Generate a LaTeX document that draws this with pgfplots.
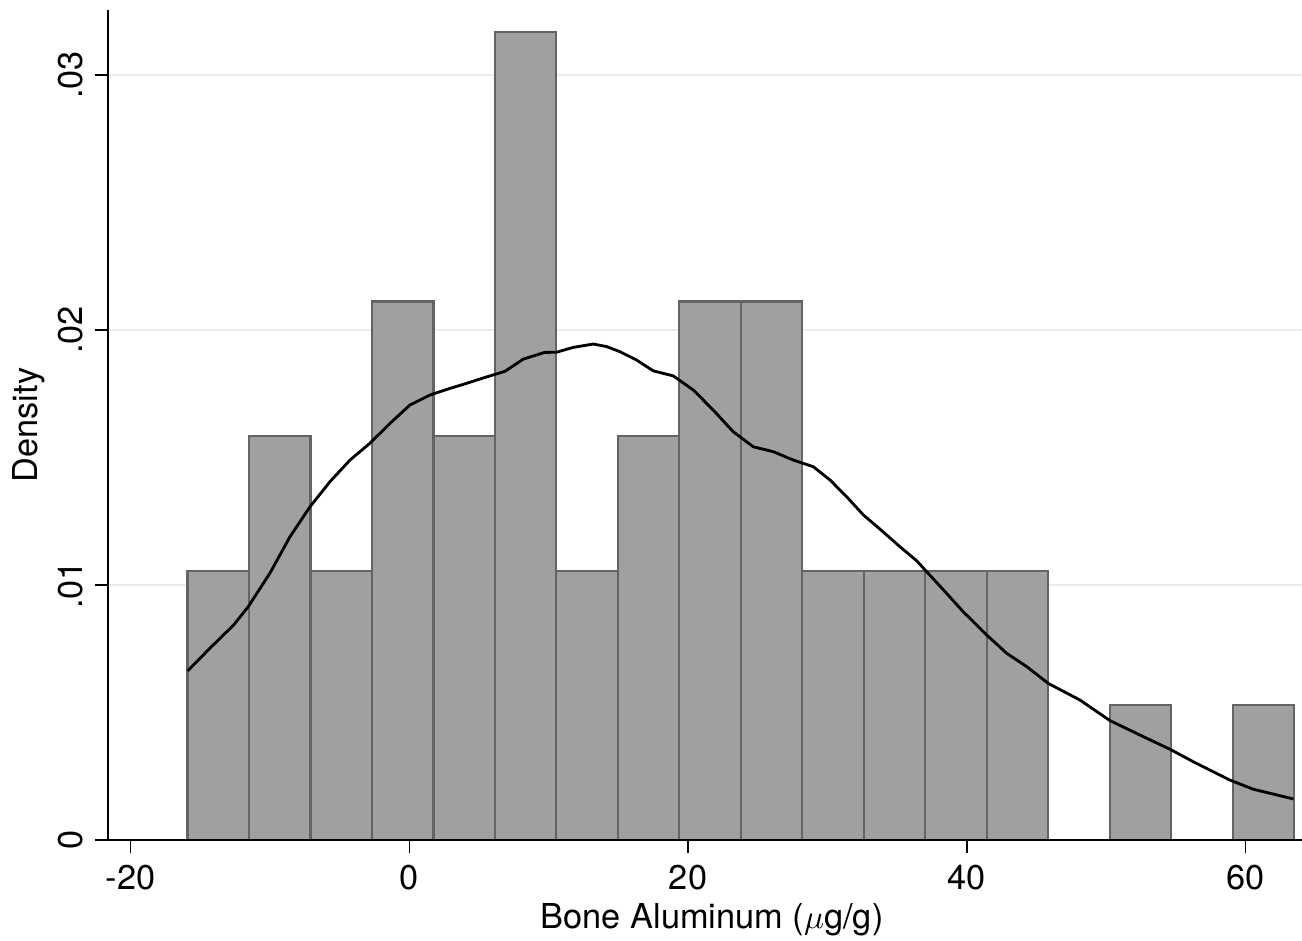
\documentclass[border=0pt]{standalone}
\usepackage{fontspec}
\setmainfont{TeX Gyre Heros}
\usepackage{pgfplots}
\pgfplotsset{compat=1.18}

\definecolor{barfill}{RGB}{160,160,160}
\definecolor{baredge}{RGB}{100,100,100}
\definecolor{gridc}{RGB}{228,239,242}

\begin{document}
\begin{tikzpicture}
\begin{axis}[
    scale only axis,
    width=358.2pt, height=249pt,
    xmin=-21.61, xmax=64.04,
    ymin=0, ymax=0.03255,
    axis lines=left,
    axis line style={-, line width=0.45pt},
    clip=false,
    tick align=outside,
    major tick length=3.9pt,
    tick style={black, line width=0.45pt},
    xtick={-20,0,20,40,60},
    xticklabels={-20,0,20,40,60},
    ytick={0,0.01,0.02,0.03},
    yticklabels={0,.01,.02,.03},
    scaled y ticks=false,
    ymajorgrids,
    grid style={gridc, line width=0.6pt},
    ticklabel style={font=\fontsize{10.3pt}{12pt}\selectfont},
    yticklabel style={rotate=90, anchor=south},
    label style={font=\fontsize{10.3pt}{12pt}\selectfont},
    xlabel={Bone Aluminum ($\mu$g/g)},
    ylabel={Density},
    xlabel style={at={(axis description cs:0.506,0)}, anchor=base, yshift=-26.4pt},
    ylabel style={at={(axis description cs:0,0.5)}, anchor=center, yshift=23.7pt},
]
% histogram, bin width 4.411, one observation = 0.00528
\addplot[ybar interval, fill=barfill, draw=baredge, line width=0.65pt] coordinates {
    (-15.910,0.01056) (-11.499,0.01584) (-7.088,0.01056) (-2.677,0.02112)
    (1.734,0.01584) (6.145,0.03168) (10.556,0.01056) (14.967,0.01584)
    (19.378,0.02112) (23.789,0.02112) (28.200,0.01056) (32.611,0.01056)
    (37.022,0.01056) (41.433,0.01056) (45.844,0)
};
\addplot[ybar interval, fill=barfill, draw=baredge, line width=0.65pt] coordinates {
    (50.255,0.00528) (54.666,0)
};
\addplot[ybar interval, fill=barfill, draw=baredge, line width=0.65pt] coordinates {
    (59.077,0.00528) (63.488,0)
};
% x axis line back on top of the bars
\addplot[black, line width=0.45pt, forget plot] coordinates {(-21.61,0) (64.04,0)};
% kernel density
\addplot[black, line width=0.85pt] coordinates {
    (-15.9,0.00663) (-14.3,0.00752) (-12.6,0.00843) (-11.55,0.00915)
    (-10.0,0.01046) (-8.56,0.01189) (-7.12,0.01307) (-5.69,0.01405)
    (-4.25,0.0149) (-2.82,0.01556) (-1.38,0.01634) (0.05,0.01706)
    (1.48,0.01745) (2.92,0.01771) (4.12,0.01791) (5.31,0.01812)
    (6.87,0.01838) (8.18,0.01886) (9.7,0.01912) (10.57,0.01913)
    (11.77,0.01932) (13.2,0.01945) (14.16,0.01935) (15.11,0.01915)
    (16.31,0.01882) (17.5,0.0184) (18.94,0.0182) (20.37,0.01765)
    (21.81,0.01686) (23.24,0.01601) (24.68,0.01542) (26.11,0.01523)
    (27.55,0.0149) (28.98,0.01464) (30.18,0.01412) (31.38,0.01346)
    (32.57,0.01275) (33.77,0.01219) (35.2,0.0115) (36.4,0.01095)
    (37.12,0.01052) (38.55,0.00967) (39.74,0.00895) (41.42,0.00804)
    (42.86,0.00732) (44.29,0.0068) (45.84,0.00614) (48.11,0.00549)
    (50.27,0.00468) (52.9,0.00399) (54.57,0.00356) (56.24,0.00307)
    (58.87,0.00235) (60.55,0.00199) (63.42,0.00161)
};
\end{axis}
\pgfresetboundingbox
\path ([xshift=-32.4pt,yshift=-30pt]current axis.south west) rectangle ([yshift=3pt]current axis.north east);
\end{tikzpicture}
\end{document}
